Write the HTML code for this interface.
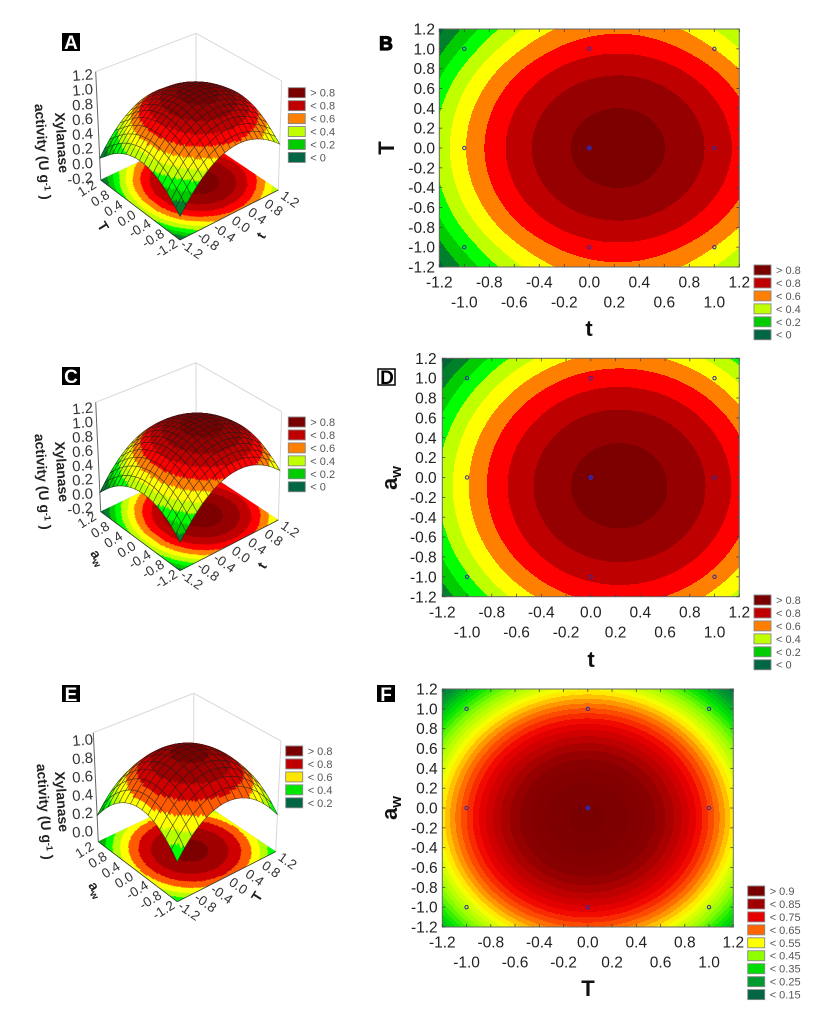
<!DOCTYPE html>
<html lang="en">
<head>
<meta charset="utf-8">
<title>Xylanase activity response surfaces and contour plots</title>
<style>
html,body{margin:0;padding:0;background:#fff;width:818px;height:1014px;overflow:hidden}
svg{display:block;font-family:"Liberation Sans",sans-serif;filter:blur(0.35px)}
.letter-box{fill:#000}
.letter{font-weight:bold;font-size:19px;text-anchor:middle}
.axis-title{font-weight:bold;font-size:22px;fill:#111;text-anchor:middle}
.axis-title-3d{font-weight:bold;font-size:14px;fill:#222;text-anchor:middle}
.y-title{font-weight:bold;font-size:14px;fill:#222;text-anchor:middle}
</style>
</head>
<body>
<svg id="figure" xmlns="http://www.w3.org/2000/svg" width="818" height="1014" viewBox="0 0 818 1014">
  <rect width="818" height="1014" fill="#fff"/>
  <g id="layer-a"></g>
  <g id="layer-b"></g>
  <g id="layer-c"></g>
  <g id="layer-d"></g>
  <g id="layer-e"></g>
  <g id="layer-f"></g>

  <g>
    <rect class="letter-box" x="62" y="33" width="18" height="18"/>
    <text class="letter" x="71" y="49" fill="#fff">A</text>
    <text class="letter" x="386" y="50" fill="#000" stroke="#000" stroke-width="1.2">B</text>
    <rect class="letter-box" x="62" y="367" width="18" height="18"/>
    <text class="letter" x="71" y="383" fill="#fff">C</text>
    <rect x="378" y="369" width="17" height="16" fill="#fff" stroke="#000" stroke-width="1.5"/>
    <text class="letter" x="387" y="384" fill="#000">D</text>
    <rect class="letter-box" x="62" y="685" width="18" height="17"/>
    <text class="letter" x="71" y="701" fill="#fff">E</text>
    <rect class="letter-box" x="377" y="685" width="18" height="17"/>
    <text class="letter" x="386" y="701" fill="#fff">F</text>
  </g>

  <g>
    <text class="y-title" transform="translate(57 143) rotate(86)">Xylanase</text>
    <text class="y-title" transform="translate(38 152) rotate(86)">activity (U g<tspan dy="-4" font-size="9">-1</tspan><tspan dy="4"> )</tspan></text>
    <text class="axis-title-3d" transform="translate(99 229) rotate(58)">T</text>
    <text class="axis-title-3d" transform="translate(265 238) rotate(-58)">t</text>
    <text class="axis-title" x="589" y="336">t</text>
    <text class="axis-title" transform="translate(394 148) rotate(-90)">T</text>

    <text class="y-title" transform="translate(57 472) rotate(86)">Xylanase</text>
    <text class="y-title" transform="translate(38 482) rotate(86)">activity (U g<tspan dy="-4" font-size="9">-1</tspan><tspan dy="4"> )</tspan></text>
    <text class="axis-title-3d" transform="translate(94 560) rotate(58)">a<tspan dy="3" font-size="10">w</tspan></text>
    <text class="axis-title-3d" transform="translate(266 568) rotate(-58)">t</text>
    <text class="axis-title" x="591" y="667">t</text>
    <text class="axis-title" transform="translate(397 478) rotate(-90)">a<tspan dy="4" font-size="15">w</tspan></text>

    <text class="y-title" transform="translate(57 802) rotate(86)">Xylanase</text>
    <text class="y-title" transform="translate(40 812) rotate(86)">activity (U g<tspan dy="-4" font-size="9">-1</tspan><tspan dy="4"> )</tspan></text>
    <text class="axis-title-3d" transform="translate(92 892) rotate(58)">a<tspan dy="3" font-size="10">w</tspan></text>
    <text class="axis-title-3d" transform="translate(261 899) rotate(-58)">T</text>
    <text class="axis-title" x="588" y="996">T</text>
    <text class="axis-title" transform="translate(397 808) rotate(-90)">a<tspan dy="4" font-size="15">w</tspan></text>
  </g>
</svg>
<script>
// ---------- data ----------
const gridValues = [-1.2,-1.0,-0.8,-0.6,-0.4,-0.2,0,0.2,0.4,0.6,0.8,1.0,1.2];
const tickValues = [-1.2,-1.0,-0.8,-0.6,-0.4,-0.2,0,0.2,0.4,0.6,0.8,1.0,1.2];
const floorTicks = [-1.2,-0.8,-0.4,0,0.4,0.8,1.2];
const zTicksTall = [1.2,1.0,0.8,0.6,0.4,0.2,0,-0.2];
const zTicksShort = [1.0,0.8,0.6,0.4,0.2,0];
const designX = [-1,-1,-1,0,0,0,1,1,1];
const designY = [-1,0,1,-1,0,1,-1,0,1];

// Response read along a line through the peak, at gridValues
const peakAB = 0.943;
const timeSliceAB = [0.328,0.488,0.623,0.735,0.823,0.887,0.927,0.943,0.935,0.902,0.846,0.768,0.670];
const tempSliceAB = [0.575,0.676,0.772,0.847,0.900,0.932,0.943,0.932,0.900,0.847,0.772,0.676,0.575];
const peakCD = 0.945;
const timeSliceCD = [0.328,0.488,0.624,0.736,0.824,0.889,0.929,0.945,0.937,0.905,0.849,0.769,0.665];
const awSliceCD = [0.637,0.737,0.818,0.879,0.920,0.942,0.943,0.925,0.887,0.829,0.751,0.653,0.536];
const peakEF = 0.930;
const tempSliceEF = [0.560,0.673,0.766,0.838,0.889,0.920,0.930,0.920,0.889,0.838,0.766,0.673,0.560];
const awSliceEF = [0.653,0.745,0.818,0.873,0.909,0.928,0.928,0.909,0.873,0.818,0.745,0.653,0.543];

// Contour levels
const levelsABCD = [0,0.1,0.2,0.3,0.4,0.5,0.6,0.7,0.8,0.9];
const levelsE = [0.2,0.3,0.4,0.5,0.6,0.7,0.8,0.9];
const levelsF = [0.15,0.175,0.2,0.225,0.25,0.275,0.3,0.325,0.35,0.375,0.4,0.425,0.45,0.475,0.5,0.525,0.55,0.575,0.6,0.625,0.65,0.675,0.7,0.725,0.75,0.775,0.8,0.825,0.85,0.875,0.9,0.925];

// Legend text
const legendABCD = ['> 0.8','< 0.8','< 0.6','< 0.4','< 0.2','< 0'];
const legendE = ['> 0.8','< 0.8','< 0.6','< 0.4','< 0.2'];
const legendF = ['> 0.9','< 0.85','< 0.75','< 0.65','< 0.55','< 0.45','< 0.35','< 0.25','< 0.15'];

// ---------- styling ----------
const colorsABCD = ['#006633','#00802b','#00cc00','#00ff00','#c0ff00','#ffff00','#ff7f00','#ff0000','#bf0000','#960000','#7d0000'];
const colorsE = ['#007a33','#00b000','#00ff00','#b4ff00','#ffff00','#ff5a00','#d00000','#a00000','#7d0000'];
const swatchABCD = ['#7a0000','#c00000','#ff7f00','#c0ff00','#00cc00','#006644'];
const swatchE = ['#7a0000','#c00000','#ffe600','#00e600','#006644'];
const swatchF = ['#7a0000','#a00000','#e60000','#ff6600','#ffff00','#90ff00','#00dd00','#009a30','#006644'];
const rampStops = [0.15,0.25,0.35,0.45,0.55,0.65,0.72,0.78,0.85,0.93];
const rampRGB = [[0,102,68],[0,154,48],[0,230,0],[150,255,0],[255,255,0],[255,90,0],[240,0,0],[195,0,0],[140,0,0],[122,0,0]];

function rampColor(z){
  if(z<=rampStops[0]) return 'rgb('+rampRGB[0].join(',')+')';
  for(let i=1;i<rampStops.length;i++){
    if(z<=rampStops[i]){
      const f=(z-rampStops[i-1])/(rampStops[i]-rampStops[i-1]);
      const c=rampRGB[i-1].map((v,k)=>Math.round(v+(rampRGB[i][k]-v)*f));
      return 'rgb('+c.join(',')+')';
    }
  }
  return 'rgb('+rampRGB[rampRGB.length-1].join(',')+')';
}
const colorsF = levelsF.map((l,i)=>i===0?rampColor(0.14):rampColor((l+levelsF[i-1])/2)).concat([rampColor(0.94)]);

// ---------- helpers ----------
const NS='http://www.w3.org/2000/svg';
function mk(tag,attrs,parent,text){
  const n=document.createElementNS(NS,tag);
  for(const k in attrs) n.setAttribute(k,attrs[k]);
  if(text!==undefined) n.textContent=text;
  parent.appendChild(n);
  return n;
}
// Smooth lookup in a slice sampled at gridValues
function sliceAt(arr,v){
  const s=(v-gridValues[0])/(gridValues[1]-gridValues[0]);
  const n=arr.length;
  const i=Math.max(0,Math.min(n-2,Math.floor(s)));
  const f=s-i;
  const a=k=>k<0?3*arr[0]-3*arr[1]+arr[2]:k>=n?3*arr[n-1]-3*arr[n-2]+arr[n-3]:arr[k];
  const p0=a(i-1),p1=a(i),p2=a(i+1),p3=a(i+2);
  return 0.5*(2*p1+(p2-p0)*f+(2*p0-5*p1+4*p2-p3)*f*f+(3*p1-p0-3*p2+p3)*f*f*f);
}
function response(cfg,x,y){return sliceAt(cfg.xs,x)+sliceAt(cfg.ys,y)-cfg.peak;}
function bandOf(levels,z){let k=0;while(k<levels.length&&z>=levels[k])k++;return k;}
const RANGE=2.4,MINV=-1.2;

// ---------- 3D surface panel ----------
function pointOnQuad(q,u,v){
  const x=(1-u)*(1-v)*q.F[0]+u*(1-v)*q.R[0]+(1-u)*v*q.L[0]+u*v*q.B[0];
  const y=(1-u)*(1-v)*q.F[1]+u*(1-v)*q.R[1]+(1-u)*v*q.L[1]+u*v*q.B[1];
  return [x,y];
}
function project(cfg,u,v,z){
  const a=pointOnQuad(cfg.floor,u,v),b=pointOnQuad(cfg.top,u,v);
  const h=(z-cfg.zMin)/(cfg.zMax-cfg.zMin);
  return [a[0]+(b[0]-a[0])*h,a[1]+(b[1]-a[1])*h];
}
function quadPath(p){
  return 'M'+p.map(c=>c[0].toFixed(1)+' '+c[1].toFixed(1)).join('L')+'Z';
}
function drawSurface(cfg){
  const root=document.getElementById(cfg.layer);
  const fl=cfg.floor,tp=cfg.top;
  // back frame
  const frameLines=[[tp.L,tp.B],[tp.B,tp.R],[tp.B,fl.B],[tp.R,fl.R],[fl.L,fl.B],[fl.B,fl.R]];
  frameLines.forEach(s=>{
    const el=mk('line',{x1:s[0][0],y1:s[0][1],x2:s[1][0],y2:s[1][1],stroke:'#d8d8d8','stroke-width':1},root);
    
    
  });
  const axisLine=mk('line',{x1:tp.L[0],y1:tp.L[1],x2:fl.L[0],y2:fl.L[1],stroke:'#666','stroke-width':1},root);
  
  

  // floor contour
  const N=84,paths={};
  for(let i=0;i<N;i++)for(let j=0;j<N;j++){
    const u0=i/N,u1=(i+1)/N,v0=j/N,v1=(j+1)/N;
    const z=response(cfg,MINV+(u0+u1)/2*RANGE,MINV+(v0+v1)/2*RANGE);
    const b=bandOf(cfg.levels,z);
    const d=quadPath([pointOnQuad(fl,u0,v0),pointOnQuad(fl,u1,v0),pointOnQuad(fl,u1,v1),pointOnQuad(fl,u0,v1)]);
    paths[b]=(paths[b]||'')+d;
  }
  Object.keys(paths).forEach(b=>{
    const el=mk('path',{d:paths[b],fill:cfg.colors[b],stroke:cfg.colors[b],'stroke-width':0.5},root);
    
    
  });
  [[fl.L,fl.F],[fl.F,fl.R]].forEach(s=>{
    const el=mk('line',{x1:s[0][0],y1:s[0][1],x2:s[1][0],y2:s[1][1],stroke:'#333','stroke-width':0.8},root);
    
    
  });

  // surface mesh, painted back to front
  const n=cfg.cells,sub=4;
  const surf=mk('g',{},root);
  
  
  for(let i=n-1;i>=0;i--)for(let j=n-1;j>=0;j--){
    const byBand={};
    for(let a=0;a<sub;a++)for(let b=0;b<sub;b++){
      const u0=(i+a/sub)/n,u1=(i+(a+1)/sub)/n,v0=(j+b/sub)/n,v1=(j+(b+1)/sub)/n;
      const val=(u,v)=>response(cfg,MINV+u*RANGE,MINV+v*RANGE);
      const c=bandOf(cfg.levels,val((u0+u1)/2,(v0+v1)/2));
      const d=quadPath([project(cfg,u0,v0,val(u0,v0)),project(cfg,u1,v0,val(u1,v0)),project(cfg,u1,v1,val(u1,v1)),project(cfg,u0,v1,val(u0,v1))]);
      byBand[c]=(byBand[c]||'')+d;
    }
    Object.keys(byBand).forEach(c=>{
      const el=mk('path',{d:byBand[c],fill:cfg.colors[c],stroke:cfg.colors[c],'stroke-width':0.35},surf);
      
      
    });
    const corners=[];
    const val=(u,v)=>response(cfg,MINV+u*RANGE,MINV+v*RANGE);
    const U0=i/n,U1=(i+1)/n,V0=j/n,V1=(j+1)/n;
    for(let k=0;k<=sub;k++){const u=U0+(U1-U0)*k/sub;corners.push(project(cfg,u,V0,val(u,V0)));}
    for(let k=1;k<=sub;k++){const v=V0+(V1-V0)*k/sub;corners.push(project(cfg,U1,v,val(U1,v)));}
    for(let k=1;k<=sub;k++){const u=U1+(U0-U1)*k/sub;corners.push(project(cfg,u,V1,val(u,V1)));}
    for(let k=1;k<sub;k++){const v=V1+(V0-V1)*k/sub;corners.push(project(cfg,U0,v,val(U0,v)));}
    const grid=mk('path',{d:quadPath(corners),fill:'none',stroke:'#1c1c1c','stroke-width':0.6,'stroke-opacity':0.75},surf);
    
    
  }

  // z tick labels
  cfg.zTicks.forEach(t=>{
    const y=cfg.zLabelTop+(cfg.zTicks[0]-t)*cfg.zLabelScale;
    const el=mk('text',{x:93,y:y,dy:'0.36em','text-anchor':'end','font-size':15,fill:'#333',transform:'rotate(-5 80 '+y+')'},root,t.toFixed(1));
    
    
  });
  // floor tick labels
  floorTicks.forEach(t=>{
    const frac=(t-MINV)/RANGE;
    const pl=pointOnQuad(fl,0,frac);
    const lx=pl[0]-14,ly=pl[1]+8;
    const a=mk('text',{x:lx,y:ly,dy:'0.36em','text-anchor':'middle','font-size':13.5,fill:'#333',transform:'rotate(-32 '+lx+' '+ly+')'},root,t.toFixed(1));
    
    
    const pr=pointOnQuad(fl,frac,0);
    const rx=pr[0]+12,ry=pr[1]+9;
    const b=mk('text',{x:rx,y:ry,dy:'0.36em','text-anchor':'middle','font-size':13.5,fill:'#333',transform:'rotate(35 '+rx+' '+ry+')'},root,t.toFixed(1));
    
    
  });
  drawLegend(root,cfg.legend,cfg.swatches,cfg.legendX,cfg.legendY);
}

// ---------- legend ----------
function drawLegend(root,labels,swatches,x,y){
  labels.forEach((lab,i)=>{
    const yy=y+i*12.95;
    const sw=mk('rect',{x:x,y:yy,width:17,height:10,fill:swatches[i],stroke:'#888','stroke-width':0.9},root);
    
    
    const tx=mk('text',{x:x+22,y:yy+5,dy:'0.36em','font-size':11,fill:'#555'},root,lab);
    
    
  });
}

// ---------- 2D contour panel ----------
function drawContour(cfg){
  const root=document.getElementById(cfg.layer);
  const W=cfg.x1-cfg.x0,H=cfg.y1-cfg.y0;
  const sx=v=>cfg.x0+(v-MINV)/RANGE*W;
  const sy=v=>cfg.y1-(v-MINV)/RANGE*H;
  const paths={};
  // contour fill is built from whole-pixel rows so neighbouring bands never show seams
  const X0=Math.round(cfg.x0),Y0=Math.round(cfg.y0);
  const rows=Math.round(cfg.y1)-Y0,cols=Math.round(cfg.x1)-X0;
  for(let r=0;r<rows;r++){
    const yVal=MINV+RANGE*(1-(r+0.5)/rows);
    const sy0=sliceAt(cfg.ys,yVal);
    let start=0,prev=-1;
    for(let c=0;c<=cols;c++){
      let b=-2;
      if(c<cols){
        const xVal=MINV+RANGE*(c+0.5)/cols;
        b=bandOf(cfg.levels,sliceAt(cfg.xs,xVal)+sy0-cfg.peak);
      }
      if(b!==prev){
        if(prev>=0){
          paths[prev]=(paths[prev]||'')+'M'+(X0+start)+' '+(Y0+r)+'h'+(c-start)+'v1h'+(start-c)+'z';
        }
        start=c;prev=b;
      }
    }
  }
  Object.keys(paths).forEach(b=>{
    const el=mk('path',{d:paths[b],fill:cfg.colors[b],'shape-rendering':'crispEdges'},root);
    
    
  });
  const frame=mk('rect',{x:cfg.x0,y:cfg.y0,width:W,height:H,fill:'none',stroke:'#666','stroke-width':1},root);
  
  

  tickValues.forEach((t,i)=>{
    const X=sx(t),Y=sy(t);
    [[X,cfg.y0,X,cfg.y0+3],[X,cfg.y1,X,cfg.y1-3],[cfg.x0,Y,cfg.x0+3,Y],[cfg.x1,Y,cfg.x1-3,Y]].forEach(s=>{
      const tk=mk('line',{x1:s[0],y1:s[1],x2:s[2],y2:s[3],stroke:'#444','stroke-width':0.8},root);
      
      
    });
    const xl=mk('text',{x:X,y:i%2===0?cfg.row1:cfg.row2,dy:'0.36em','text-anchor':'middle','font-size':15.5,fill:'#222'},root,t.toFixed(1));
    
    
    const yl=mk('text',{x:cfg.yLabelX,y:Y,dy:'0.36em','text-anchor':'end','font-size':15.5,fill:'#222'},root,t.toFixed(1));
    
    
  });
  designX.forEach((dx,i)=>{
    const isCentre=dx===0&&designY[i]===0;
    const pt=mk('circle',{cx:sx(dx),cy:sy(designY[i]),r:isCentre?2:1.7,fill:isCentre?'#3a1ea0':'none',stroke:'#3a2aa0','stroke-width':1},root);
    
    
  });
  drawLegend(root,cfg.legend,cfg.swatches,cfg.legendX,cfg.legendY);
}

// ---------- panels ----------
drawSurface({layer:'layer-a',xs:timeSliceAB,ys:tempSliceAB,peak:peakAB,levels:levelsABCD,colors:colorsABCD,
  zMin:-0.35,zMax:1.2,cells:18,zTicks:zTicksTall,zLabelTop:75,zLabelScale:73.8,
  floor:{F:[180,240],R:[278.3,190],L:[100.7,180],B:[196.3,135]},
  top:{F:[181,122],R:[281.7,81],L:[95.7,71.7],B:[196,33.3]},
  legend:legendABCD,swatches:swatchABCD,legendX:288.3,legendY:87.7});
drawContour({layer:'layer-b',xs:timeSliceAB,ys:tempSliceAB,peak:peakAB,levels:levelsABCD,colors:colorsABCD,
  x0:439.3,x1:739.3,y0:29,y1:267,row1:281.7,row2:301.7,yLabelX:435,
  legend:legendABCD,swatches:swatchABCD,legendX:754,legendY:265});
drawSurface({layer:'layer-c',xs:timeSliceCD,ys:awSliceCD,peak:peakCD,levels:levelsABCD,colors:colorsABCD,
  zMin:-0.35,zMax:1.2,cells:18,zTicks:zTicksTall,zLabelTop:408.3,zLabelScale:71.4,
  floor:{F:[180,570.7],R:[278.3,520],L:[100.7,511.7],B:[196.3,466]},
  top:{F:[181,452],R:[281.7,411.7],L:[95.7,402.3],B:[196,362.7]},
  legend:legendABCD,swatches:swatchABCD,legendX:288.3,legendY:417});
drawContour({layer:'layer-d',xs:timeSliceCD,ys:awSliceCD,peak:peakCD,levels:levelsABCD,colors:colorsABCD,
  x0:442.3,x1:739.3,y0:358.3,y1:596.7,row1:611.7,row2:631.7,yLabelX:436.7,
  legend:legendABCD,swatches:swatchABCD,legendX:754,legendY:595});
drawSurface({layer:'layer-e',xs:tempSliceEF,ys:awSliceEF,peak:peakEF,levels:levelsE,colors:colorsE,
  zMin:-0.1,zMax:1.05,cells:14,zTicks:zTicksShort,zLabelTop:740,zLabelScale:91.7,
  floor:{F:[177.3,901.7],R:[275.7,851.7],L:[98.3,841.7],B:[193.7,796.7]},
  top:{F:[177,782],R:[281,741],L:[93.3,732.7],B:[193.7,693.3]},
  legend:legendE,swatches:swatchE,legendX:285.7,legendY:746});
drawContour({layer:'layer-f',xs:tempSliceEF,ys:awSliceEF,peak:peakEF,levels:levelsF,colors:colorsF,
  x0:442.3,x1:733.3,y0:689,y1:927,row1:941.7,row2:961.7,yLabelX:437.7,
  legend:legendF,swatches:swatchF,legendX:747.7,legendY:886});
</script>
</body>
</html>
